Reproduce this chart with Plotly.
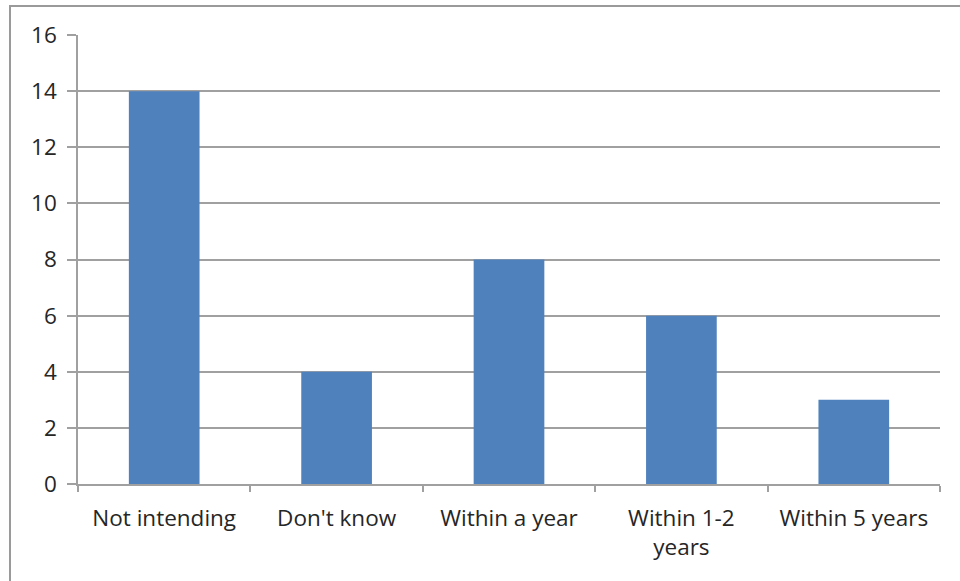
import plotly.graph_objects as go

categories = ["Not intending", "Don't know", "Within a year", "Within 1-2<br>years", "Within 5 years"]
values = [14, 4, 8, 6, 3]
y_ticks = [0, 2, 4, 6, 8, 10, 12, 14, 16]

W, H = 960, 581
ml, mr, mt, mb = 78, 20, 35, 97
pw, ph = W - ml - mr, H - mt - mb

fig = go.Figure(go.Bar(x=categories, y=values, marker=dict(color="#4F81BD", line=dict(width=0)), width=0.41))

tf = dict(family="Open Sans", size=22.5, color="#262626")
fig.update_layout(
    width=W, height=H,
    margin=dict(l=ml, r=mr, t=mt, b=mb),
    paper_bgcolor="white", plot_bgcolor="white",
    font=tf,
    showlegend=False,
    xaxis=dict(showline=True, linecolor="#A0A0A0", linewidth=1.5, ticks="outside", tickson="boundaries",
               ticklen=6, tickcolor="#A0A0A0", tickwidth=1.5, showgrid=False, range=[-0.5, 4.5],
               tickfont=tf, ticklabelstandoff=13),
    yaxis=dict(range=[0, 16], tickvals=y_ticks, showline=True, linecolor="#A0A0A0", linewidth=1.5,
               ticks="outside", ticklen=9, tickcolor="#A0A0A0", tickwidth=1.5,
               showgrid=True, gridcolor="#A0A0A0", gridwidth=1.5, zeroline=False,
               tickfont=tf, ticklabelstandoff=6),
)

x0 = (10 - ml) / pw
y1 = 1 + (mt - 6) / ph
fig.add_shape(type="rect", xref="paper", yref="paper", x0=x0, x1=1.2, y0=-0.5, y1=y1,
              line=dict(color="#9A9A9A", width=2), fillcolor="rgba(0,0,0,0)", layer="below")

fig.write_html("out.html")
